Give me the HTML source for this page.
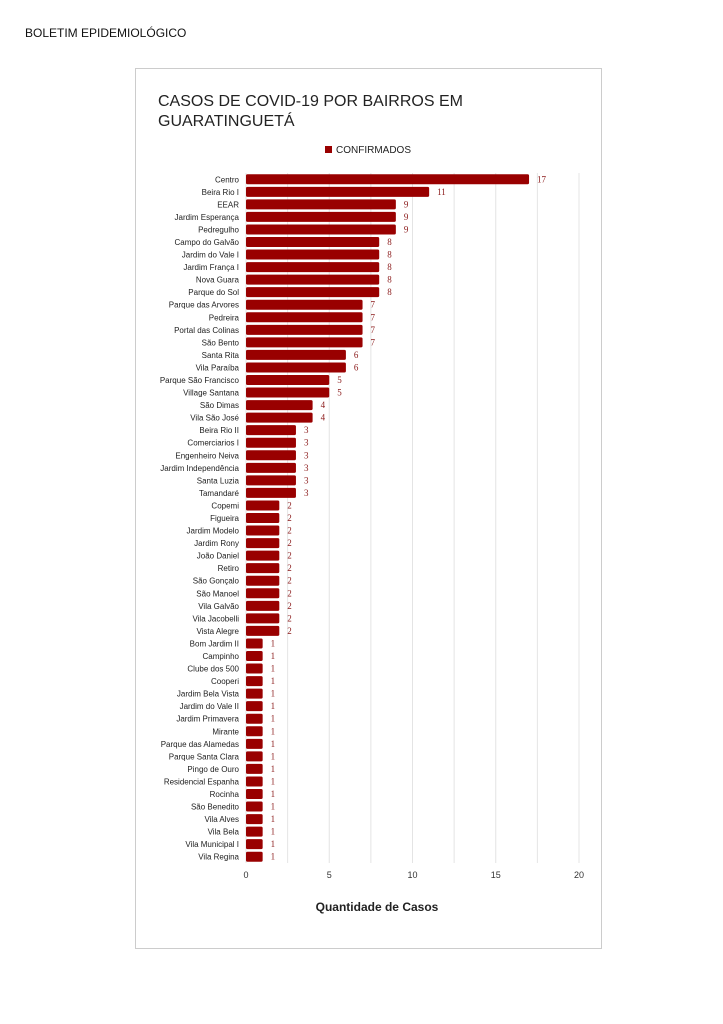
<!DOCTYPE html>
<html><head><meta charset="utf-8"><style>
body{margin:0;background:#fff;width:723px;height:1024px;overflow:hidden;font-family:"Liberation Sans",sans-serif}
</style></head><body>
<div style="position:absolute;left:25px;top:26px;font-size:12px;color:#111">BOLETIM EPIDEMIOLÓGICO</div>
<svg id="chart" width="723" height="1024" style="position:absolute;left:0;top:0">
<rect x="135.5" y="68.5" width="466" height="880" fill="#fff" stroke="#ccc"/>
<text x="158" y="106" font-size="16" fill="#222" font-family="Liberation Sans">CASOS DE COVID-19 POR BAIRROS EM</text>
<text x="158" y="126" font-size="16" fill="#222" font-family="Liberation Sans">GUARATINGUETÁ</text>
<rect x="325" y="146" width="7" height="7" fill="#990000"/>
<text x="336" y="153" font-size="10" fill="#222">CONFIRMADOS</text>
<text x="377" y="911" font-size="12" font-weight="bold" text-anchor="middle" fill="#222">Quantidade de Casos</text>
<g id="grid"></g><g id="bars"></g>
</svg>
<script>
const categories=["Centro","Beira Rio I","EEAR","Jardim Esperança","Pedregulho","Campo do Galvão","Jardim do Vale I","Jardim França I","Nova Guara","Parque do Sol","Parque das Arvores","Pedreira","Portal das Colinas","São Bento","Santa Rita","Vila Paraíba","Parque São Francisco","Village Santana","São Dimas","Vila São José","Beira Rio II","Comerciarios I","Engenheiro Neiva","Jardim Independência","Santa Luzia","Tamandaré","Copemi","Figueira","Jardim Modelo","Jardim Rony","João Daniel","Retiro","São Gonçalo","São Manoel","Vila Galvão","Vila Jacobelli","Vista Alegre","Bom Jardim II","Campinho","Clube dos 500","Cooperi","Jardim Bela Vista","Jardim do Vale II","Jardim Primavera","Mirante","Parque das Alamedas","Parque Santa Clara","Pingo de Ouro","Residencial Espanha","Rocinha","São Benedito","Vila Alves","Vila Bela","Vila Municipal I","Vila Regina"];
const values=[17,11,9,9,9,8,8,8,8,8,7,7,7,7,6,6,5,5,4,4,3,3,3,3,3,3,2,2,2,2,2,2,2,2,2,2,2,1,1,1,1,1,1,1,1,1,1,1,1,1,1,1,1,1,1];
const ticks=[0,5,10,15,20];
const NS="http://www.w3.org/2000/svg";
const x0=246,x1=579,xmax=20,top0=173,bot=863;
const xs=v=>x0+(x1-x0)*v/xmax;
const step=(bot-top0)/categories.length;
const ys=i=>top0+step*i+step/2;
const grid=document.getElementById('grid'),bars=document.getElementById('bars');
function mk(t,a,p){const e=document.createElementNS(NS,t);for(const k in a)e.setAttribute(k,a[k]);p.appendChild(e);return e;}
for(let v=0;v<=xmax;v+=2.5){
 const l=mk('line',{x1:xs(v),x2:xs(v),y1:top0,y2:bot,stroke:'#e4e4e4','stroke-width':1},grid);
 
 
}
ticks.forEach(t=>{
 const e=mk('text',{x:xs(t),y:bot+15,'font-size':9,'text-anchor':'middle',fill:'#333'},grid);
 e.textContent=t;
 
 
});
categories.forEach((c,i)=>{
 const y=ys(i);
 const lab=mk('text',{x:239,y:y+3,'font-size':8,'text-anchor':'end',fill:'#222'},bars);
 lab.textContent=c;
 
 
 const b=mk('rect',{x:x0,y:y-5,width:xs(values[i])-x0,height:10,fill:'#990000',rx:1.5},bars);
 
 
 const v=mk('text',{x:xs(values[i])+8,y:y+3,'font-size':9,fill:'#8b1a1a','font-family':'Liberation Serif'},bars);
 v.textContent=values[i];
 
 
});
</script>
</body></html>
